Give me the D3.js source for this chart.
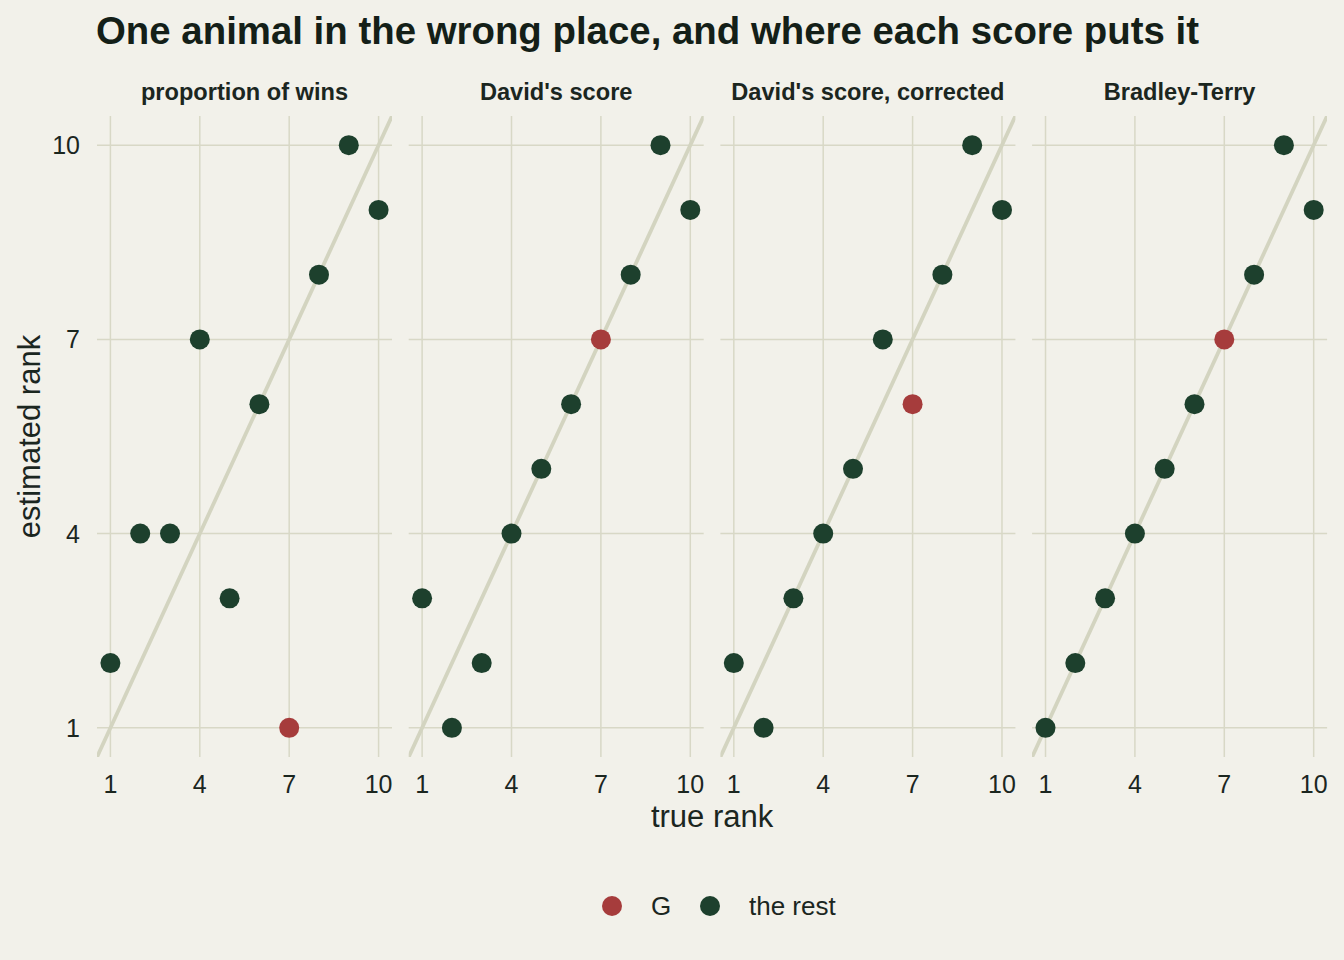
<!DOCTYPE html>
<html>
<head>
<meta charset="utf-8">
<title>One animal in the wrong place</title>
<script src="https://d3js.org/d3.v7.min.js"></script>
<style>
  body { margin: 0; background: #f2f1ea; }
  text { font-family: "Liberation Sans", Arial, sans-serif; }
</style>
</head>
<body>
<script>
// data
var panels = ["proportion of wins", "David's score", "David's score, corrected", "Bradley-Terry"];
var trueRank = [1, 2, 3, 4, 5, 6, 7, 8, 9, 10];
var propWins = [2, 4, 4, 7, 3, 6, 1, 8, 10, 9];
var davids = [3, 1, 2, 4, 5, 6, 7, 8, 10, 9];
var davidsCorr = [2, 1, 3, 4, 5, 7, 6, 8, 10, 9];
var bradleyTerry = [1, 2, 3, 4, 5, 6, 7, 8, 10, 9];
var oddOne = 7; // true rank of G
var ticks = [1, 4, 7, 10];
var groups = ["G", "the rest"];

var estimates = [propWins, davids, davidsCorr, bradleyTerry];

var W = 1344, H = 960;
var bg = "#f2f1ea", grid = "#d8d8c6", diag = "#d3d4c0";
var ink = "#1b261f";
var colour = d3.scaleOrdinal().domain(groups).range(["#a63c3c", "#1d402d"]);

var svg = d3.select("body").append("svg")
    .attr("width", W)
    .attr("height", H);

svg.append("rect").attr("width", W).attr("height", H).attr("fill", bg);

var padLeft = 97, padTop = 116, panelW = 295, gap = 16.7, panelH = 641;

var x = d3.scaleLinear().domain([0.55, 10.45]).range([0, panelW]);
var y = d3.scaleLinear().domain([0.55, 10.45]).range([panelH, 0]);

svg.append("text")
    .attr("x", 96).attr("y", 44)
    .attr("font-size", 38.4).attr("font-weight", "bold")
    .attr("fill", "#141f18")
    .text("One animal in the wrong place, and where each score puts it");

svg.append("defs").append("clipPath").attr("id", "clip")
  .append("rect").attr("width", panelW).attr("height", panelH);

panels.forEach(function(name, i) {
  var g = svg.append("g")
      .attr("transform", "translate(" + (padLeft + i * (panelW + gap)) + "," + padTop + ")");

  g.append("text")
      .attr("x", panelW / 2).attr("y", -16)
      .attr("text-anchor", "middle")
      .attr("font-size", 23.6).attr("font-weight", "bold")
      .attr("fill", ink)
      .text(name);

  g.selectAll(".vg").data(ticks).enter().append("line")
      .attr("x1", d => x(d)).attr("x2", d => x(d))
      .attr("y1", 0).attr("y2", panelH)
      .attr("stroke", grid).attr("stroke-width", 1.5);
  g.selectAll(".hg").data(ticks).enter().append("line")
      .attr("y1", d => y(d)).attr("y2", d => y(d))
      .attr("x1", 0).attr("x2", panelW)
      .attr("stroke", grid).attr("stroke-width", 1.5);

  // y = x reference line
  g.append("line")
      .attr("clip-path", "url(#clip)")
      .attr("x1", x(0)).attr("y1", y(0))
      .attr("x2", x(11)).attr("y2", y(11))
      .attr("stroke", diag).attr("stroke-width", 3.8);

  // x tick labels
  g.selectAll(".xt").data(ticks).enter().append("text")
      .attr("x", d => x(d)).attr("y", panelH + 36)
      .attr("text-anchor", "middle")
      .attr("font-size", 25).attr("fill", ink)
      .text(d => d);

  if (i == 0) {
    g.selectAll(".yt").data(ticks).enter().append("text")
        .attr("x", -17).attr("y", d => y(d) + 9)
        .attr("text-anchor", "end")
        .attr("font-size", 25).attr("fill", ink)
        .text(d => d);
  }

  var pts = trueRank.map((t, j) => ({t: t, e: estimates[i][j], grp: t == oddOne ? "G" : "the rest"}));
  g.selectAll("circle").data(pts).enter().append("circle")
      .attr("cx", d => x(d.t)).attr("cy", d => y(d.e))
      .attr("r", 10)
      .attr("fill", d => colour(d.grp));
});

var totalW = panels.length * panelW + (panels.length - 1) * gap;

svg.append("text")
    .attr("x", padLeft + totalW / 2).attr("y", 827)
    .attr("text-anchor", "middle")
    .attr("font-size", 31).attr("fill", ink)
    .text("true rank");

svg.append("text")
    .attr("transform", "translate(40," + (padTop + panelH / 2) + ") rotate(-90)")
    .attr("text-anchor", "middle")
    .attr("font-size", 31).attr("fill", ink)
    .text("estimated rank");

// legend
var legX = [612, 710];
var leg = svg.selectAll(".leg").data(groups).enter().append("g")
    .attr("transform", (d, i) => "translate(" + legX[i] + ",906)");
leg.append("circle").attr("r", 10).attr("fill", d => colour(d));
leg.append("text")
    .attr("x", 39).attr("y", 9)
    .attr("font-size", 26).attr("fill", ink)
    .text(d => d);
</script>
</body>
</html>
